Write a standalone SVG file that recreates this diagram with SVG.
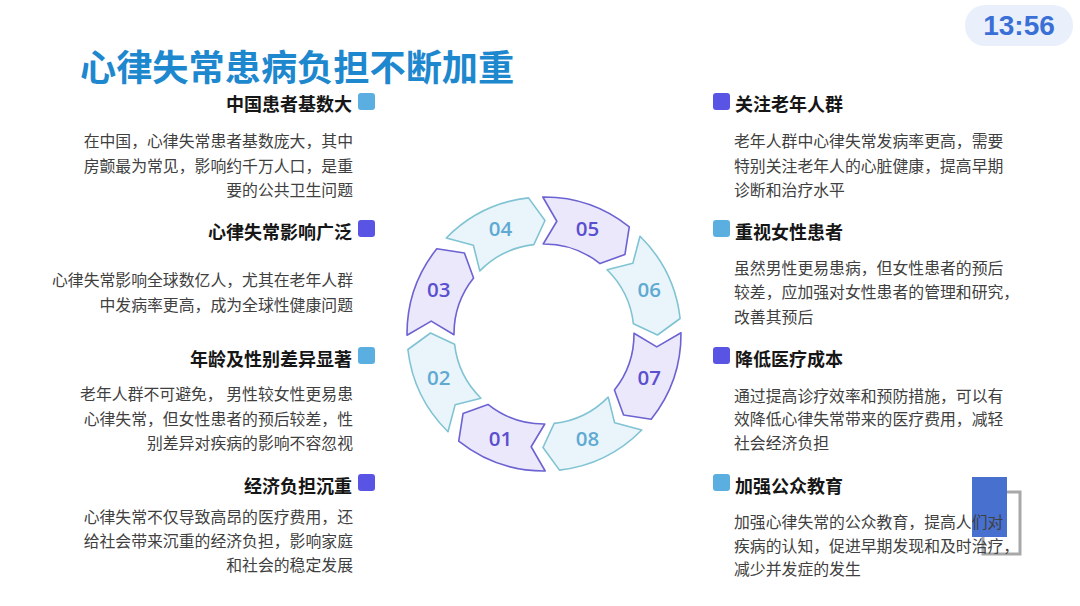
<svg xmlns="http://www.w3.org/2000/svg" xmlns:xlink="http://www.w3.org/1999/xlink" width="1080" height="606" viewBox="0 0 1080 606">
<style>
.title{font-family:"Noto Sans CJK SC","Noto Sans",sans-serif;font-weight:700;font-size:36.2px;fill:#1e88cf}
.hd{font-family:"Noto Sans CJK SC","Noto Sans",sans-serif;font-weight:700;font-size:18px;fill:#161616}
.bd{font-family:"Noto Sans CJK SC","Noto Sans",sans-serif;font-weight:400;font-size:15.85px;fill:#404040}
.l{text-anchor:end}
.sqb{fill:#5aafe0}
.sqp{fill:#5a54e4}
.p use{fill:#ebe8fb;stroke:#6c62d2;stroke-width:1.6;stroke-linejoin:round}
.t use{fill:#e9f5fa;stroke:#80c3d3;stroke-width:1.6;stroke-linejoin:round}
.num{font-family:"Open Sans","Noto Sans",sans-serif;font-weight:600;font-size:20.5px;text-anchor:middle}
.p text{fill:#5a4fcf}
.t text{fill:#5fa9d3}
</style>
<defs>
<path id="seg" d="M126.11,-53.53 A137,137 0 0 1 131.69,37.76 L104.48,44.35 L86.51,24.81 A90,90 0 0 0 82.85,-35.17 L109.10,-31.29 Z"/>
</defs>
<rect width="1080" height="606" fill="#ffffff"/>

<g id="clock">
<rect x="965" y="5" width="108" height="41" rx="20" fill="#e9f0fc"/>
<text x="1019" y="35" font-family="Liberation Sans, Arial, sans-serif" font-weight="700" font-size="28" fill="#3a6fd6" text-anchor="middle">13:56</text>
</g>

<text id="title" class="title" x="80" y="81">心律失常患病负担不断加重</text>

<g id="ring">
<g id="s01" class="p"><use xlink:href="#seg" transform="translate(544,334) rotate(112.5)"/><text class="num" x="500.4" y="446.3">01</text></g>
<g id="s02" class="t"><use xlink:href="#seg" transform="translate(544,334) rotate(157.5)"/><text class="num" x="438.7" y="384.6">02</text></g>
<g id="s03" class="p"><use xlink:href="#seg" transform="translate(544,334) rotate(202.5)"/><text class="num" x="438.7" y="297.4">03</text></g>
<g id="s04" class="t"><use xlink:href="#seg" transform="translate(544,334) rotate(247.5)"/><text class="num" x="500.4" y="235.7">04</text></g>
<g id="s05" class="p"><use xlink:href="#seg" transform="translate(544,334) rotate(-67.5)"/><text class="num" x="587.6" y="235.7">05</text></g>
<g id="s06" class="t"><use xlink:href="#seg" transform="translate(544,334) rotate(-22.5)"/><text class="num" x="649.3" y="297.4">06</text></g>
<g id="s07" class="p"><use xlink:href="#seg" transform="translate(544,334) rotate(22.5)"/><text class="num" x="649.3" y="384.6">07</text></g>
<g id="s08" class="t"><use xlink:href="#seg" transform="translate(544,334) rotate(67.5)"/><text class="num" x="587.6" y="446.3">08</text></g>
</g>

<g id="overlay">
<rect x="983" y="492" width="37" height="62" fill="none" stroke="#a8a8a8" stroke-width="3"/>
<rect x="972" y="477" width="35" height="60" fill="#4770cf"/>
</g>

<g id="left1">
<rect class="sqb" x="358" y="93" width="17" height="17" rx="3"/>
<text class="hd l" x="352" y="111">中国患者基数大</text>
<text class="bd l" x="353" y="147">在中国，心律失常患者基数庞大，其中</text>
<text class="bd l" x="353" y="171.5">房颤最为常见，影响约千万人口，是重</text>
<text class="bd l" x="353" y="196">要的公共卫生问题</text>
</g>
<g id="left2">
<rect class="sqp" x="358" y="220" width="17" height="17" rx="3"/>
<text class="hd l" x="352" y="239">心律失常影响广泛</text>
<text class="bd l" x="353" y="286">心律失常影响全球数亿人，尤其在老年人群</text>
<text class="bd l" x="353" y="310.5">中发病率更高，成为全球性健康问题</text>
</g>
<g id="left3">
<rect class="sqb" x="358" y="347" width="17" height="17" rx="3"/>
<text class="hd l" x="352" y="366">年龄及性别差异显著</text>
<text class="bd l" x="353" y="400">老年人群不可避免， 男性较女性更易患</text>
<text class="bd l" x="353" y="425">心律失常，但女性患者的预后较差，性</text>
<text class="bd l" x="353" y="449">别差异对疾病的影响不容忽视</text>
</g>
<g id="left4">
<rect class="sqp" x="358" y="474" width="17" height="17" rx="3"/>
<text class="hd l" x="352" y="493">经济负担沉重</text>
<text class="bd l" x="353" y="523">心律失常不仅导致高昂的医疗费用，还</text>
<text class="bd l" x="353" y="547">给社会带来沉重的经济负担，影响家庭</text>
<text class="bd l" x="353" y="571">和社会的稳定发展</text>
</g>

<g id="right1">
<rect class="sqp" x="713" y="93" width="17" height="17" rx="3"/>
<text class="hd" x="735" y="111">关注老年人群</text>
<text class="bd" x="734" y="147">老年人群中心律失常发病率更高，需要</text>
<text class="bd" x="734" y="171.5">特别关注老年人的心脏健康，提高早期</text>
<text class="bd" x="734" y="196">诊断和治疗水平</text>
</g>
<g id="right2">
<rect class="sqb" x="713" y="220" width="17" height="17" rx="3"/>
<text class="hd" x="735" y="239">重视女性患者</text>
<text class="bd" x="734" y="273.5">虽然男性更易患病，但女性患者的预后</text>
<text class="bd" x="734" y="298">较差，应加强对女性患者的管理和研究，</text>
<text class="bd" x="734" y="322.5">改善其预后</text>
</g>
<g id="right3">
<rect class="sqp" x="713" y="347" width="17" height="17" rx="3"/>
<text class="hd" x="735" y="366">降低医疗成本</text>
<text class="bd" x="734" y="402">通过提高诊疗效率和预防措施，可以有</text>
<text class="bd" x="734" y="425">效降低心律失常带来的医疗费用，减轻</text>
<text class="bd" x="734" y="448.5">社会经济负担</text>
</g>
<g id="right4">
<rect class="sqb" x="713" y="474" width="17" height="17" rx="3"/>
<text class="hd" x="735" y="493">加强公众教育</text>
<text class="bd" x="734" y="528">加强心律失常的公众教育，提高人们对</text>
<text class="bd" x="734" y="552">疾病的认知，促进早期发现和及时治疗，</text>
<text class="bd" x="734" y="575">减少并发症的发生</text>
</g>
</svg>
